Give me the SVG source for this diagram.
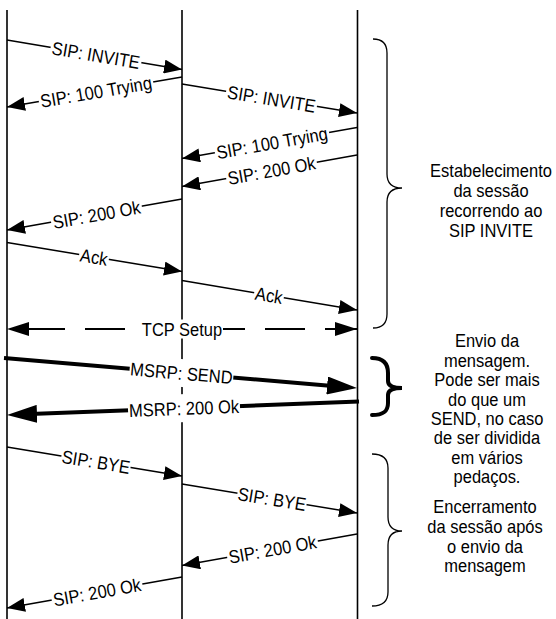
<svg xmlns="http://www.w3.org/2000/svg" width="556" height="619" viewBox="0 0 556 619">
<style>
.ll{stroke:#000;stroke-width:1.6;fill:none}
.a{stroke:#000;stroke-width:1.5;fill:none;marker-end:url(#ah)}
.ak{stroke:#000;stroke-width:4;fill:none;marker-end:url(#ahk)}
.d{stroke:#000;stroke-width:2;fill:none;stroke-dasharray:40 20;stroke-dashoffset:42;marker-start:url(#ahd);marker-end:url(#ahd)}
.lb{fill:#fff;stroke:none}
.t{font-family:"Liberation Sans",Arial,sans-serif;font-size:16.5px;fill:#000;text-anchor:middle}
.br{stroke:#000;stroke-width:1.3;fill:none}
.brk{stroke:#000;stroke-width:4;fill:none;stroke-linecap:round}
</style>
<defs>
<marker id="ah" markerUnits="userSpaceOnUse" viewBox="0 0 19 14" markerWidth="19" markerHeight="14" refX="18" refY="7" orient="auto"><path d="M0,0 L18,7 L0,14 z" fill="#000"/></marker>
<marker id="ahk" markerUnits="userSpaceOnUse" viewBox="0 0 31 18" markerWidth="31" markerHeight="18" refX="20" refY="9" orient="auto"><path d="M0,0 L30,9 L0,18 z" fill="#000"/></marker>
<marker id="ahd" markerUnits="userSpaceOnUse" viewBox="0 0 23 14" markerWidth="23" markerHeight="14" refX="22" refY="7" orient="auto-start-reverse"><path d="M0,0 L22,7 L0,14 z" fill="#000"/></marker>
</defs>
<rect width="556" height="619" fill="#fff"/>
<g id="lifeline-a"><line class="ll" x1="7" y1="10" x2="7" y2="619"/></g>
<g id="lifeline-b"><line class="ll" x1="182" y1="10" x2="182" y2="619"/></g>
<g id="lifeline-c"><line class="ll" x1="357.5" y1="10" x2="357.5" y2="619"/></g>
<g id="connectors">
<line class="a" x1="7" y1="40" x2="182" y2="69.5"/>
<line class="a" x1="182" y1="77" x2="7" y2="107"/>
<line class="a" x1="182" y1="84" x2="357" y2="113"/>
<line class="a" x1="357" y1="127.5" x2="182" y2="158.5"/>
<line class="a" x1="357" y1="155" x2="182" y2="186.5"/>
<line class="a" x1="182" y1="199" x2="7" y2="230"/>
<line class="a" x1="7" y1="242.5" x2="182" y2="271.5"/>
<line class="a" x1="182" y1="280.5" x2="357" y2="310"/>
<line class="d" x1="7" y1="329" x2="357" y2="329"/>
<line class="ak" x1="4" y1="358" x2="347.04" y2="387.15"/>
<line class="ak" x1="359" y1="401.5" x2="16.99" y2="414.62"/>
<line class="a" x1="7" y1="447" x2="182" y2="476"/>
<line class="a" x1="182" y1="484" x2="357" y2="513"/>
<line class="a" x1="357" y1="534" x2="182" y2="565.5"/>
<line class="a" x1="182" y1="577" x2="7" y2="608"/>
<g transform="translate(96,55) rotate(9.57) scale(1,1.12)"><rect class="lb" x="-46" y="-8.5" width="92" height="17"/><text class="t" y="6">SIP: INVITE</text></g>
<g transform="translate(96,91.7) rotate(-9.73) scale(1,1.12)"><rect class="lb" x="-58" y="-8.5" width="116" height="17"/><text class="t" y="6">SIP: 100 Trying</text></g>
<g transform="translate(271.5,98.8) rotate(9.41) scale(1,1.12)"><rect class="lb" x="-46" y="-8.5" width="92" height="17"/><text class="t" y="6">SIP: INVITE</text></g>
<g transform="translate(272,142.7) rotate(-10.05) scale(1,1.12)"><rect class="lb" x="-58" y="-8.5" width="116" height="17"/><text class="t" y="6">SIP: 100 Trying</text></g>
<g transform="translate(271.5,170.4) rotate(-10.2) scale(1,1.12)"><rect class="lb" x="-46" y="-8.5" width="92" height="17"/><text class="t" y="6">SIP: 200 Ok</text></g>
<g transform="translate(96.5,214.5) rotate(-10.05) scale(1,1.12)"><rect class="lb" x="-46" y="-8.5" width="92" height="17"/><text class="t" y="6">SIP: 200 Ok</text></g>
<g transform="translate(94,256.9) rotate(9.41) scale(1,1.12)"><rect class="lb" x="-15" y="-8.5" width="30" height="17"/><text class="t" y="6">Ack</text></g>
<g transform="translate(269,295.2) rotate(9.57) scale(1,1.12)"><rect class="lb" x="-15" y="-8.5" width="30" height="17"/><text class="t" y="6">Ack</text></g>
<g transform="translate(182,329) scale(1,1.12)"><rect class="lb" x="-41" y="-8.5" width="82" height="17"/><text class="t" y="6">TCP Setup</text></g>
<g transform="translate(181.5,373) rotate(4.87) scale(1,1.12)"><rect class="lb" x="-52" y="-12.5" width="104" height="25"/><text class="t" y="6">MSRP: SEND</text></g>
<g transform="translate(184,408.2) rotate(-2.2) scale(1,1.12)"><rect class="lb" x="-56" y="-12.5" width="112" height="25"/><text class="t" y="6">MSRP: 200 Ok</text></g>
<g transform="translate(96,461.7) rotate(9.41) scale(1,1.12)"><rect class="lb" x="-35" y="-8.5" width="70" height="17"/><text class="t" y="6">SIP: BYE</text></g>
<g transform="translate(272,498.9) rotate(9.41) scale(1,1.12)"><rect class="lb" x="-35" y="-8.5" width="70" height="17"/><text class="t" y="6">SIP: BYE</text></g>
<g transform="translate(272.5,549.2) rotate(-10.2) scale(1,1.12)"><rect class="lb" x="-46" y="-8.5" width="92" height="17"/><text class="t" y="6">SIP: 200 Ok</text></g>
<g transform="translate(97,592) rotate(-10.05) scale(1,1.12)"><rect class="lb" x="-46" y="-8.5" width="92" height="17"/><text class="t" y="6">SIP: 200 Ok</text></g>
</g>
<g id="brace-setup">
<path class="br" d="M373,39 Q387,39 387,53 L387,174 Q387,188 402,188 Q387,188 387,202 L387,314 Q387,328 373,328"/>
<text class="t" transform="translate(491,177) scale(1,1.12)">Estabelecimento</text>
<text class="t" transform="translate(491,197) scale(1,1.12)">da sessão</text>
<text class="t" transform="translate(491,217) scale(1,1.12)">recorrendo ao</text>
<text class="t" transform="translate(491,237) scale(1,1.12)">SIP INVITE</text>
</g>
<g id="brace-send">
<path class="brk" d="M372,358 C384,358 388,364 388,373 L388,381 C388,386 394,388 402,388 C394,388 388,390 388,395 L388,403 C388,411 384,415 372,415"/>
<text class="t" transform="translate(487,347) scale(1,1.12)">Envio da</text>
<text class="t" transform="translate(487,366.5) scale(1,1.12)">mensagem.</text>
<text class="t" transform="translate(487,386) scale(1,1.12)">Pode ser mais</text>
<text class="t" transform="translate(487,405.5) scale(1,1.12)">do que um</text>
<text class="t" transform="translate(487,425) scale(1,1.12)">SEND, no caso</text>
<text class="t" transform="translate(487,444) scale(1,1.12)">de ser dividida</text>
<text class="t" transform="translate(487,463.5) scale(1,1.12)">em vários</text>
<text class="t" transform="translate(487,482.5) scale(1,1.12)">pedaços.</text>
</g>
<g id="brace-close">
<path class="br" d="M372,454 Q388,454 388,468 L388,517 Q388,531 402,531 Q388,531 388,545 L388,592 Q388,606 372,606"/>
<text class="t" transform="translate(485,513) scale(1,1.12)">Encerramento</text>
<text class="t" transform="translate(485,533) scale(1,1.12)">da sessão após</text>
<text class="t" transform="translate(485,552.5) scale(1,1.12)">o envio da</text>
<text class="t" transform="translate(485,572) scale(1,1.12)">mensagem</text>
</g>
</svg>
